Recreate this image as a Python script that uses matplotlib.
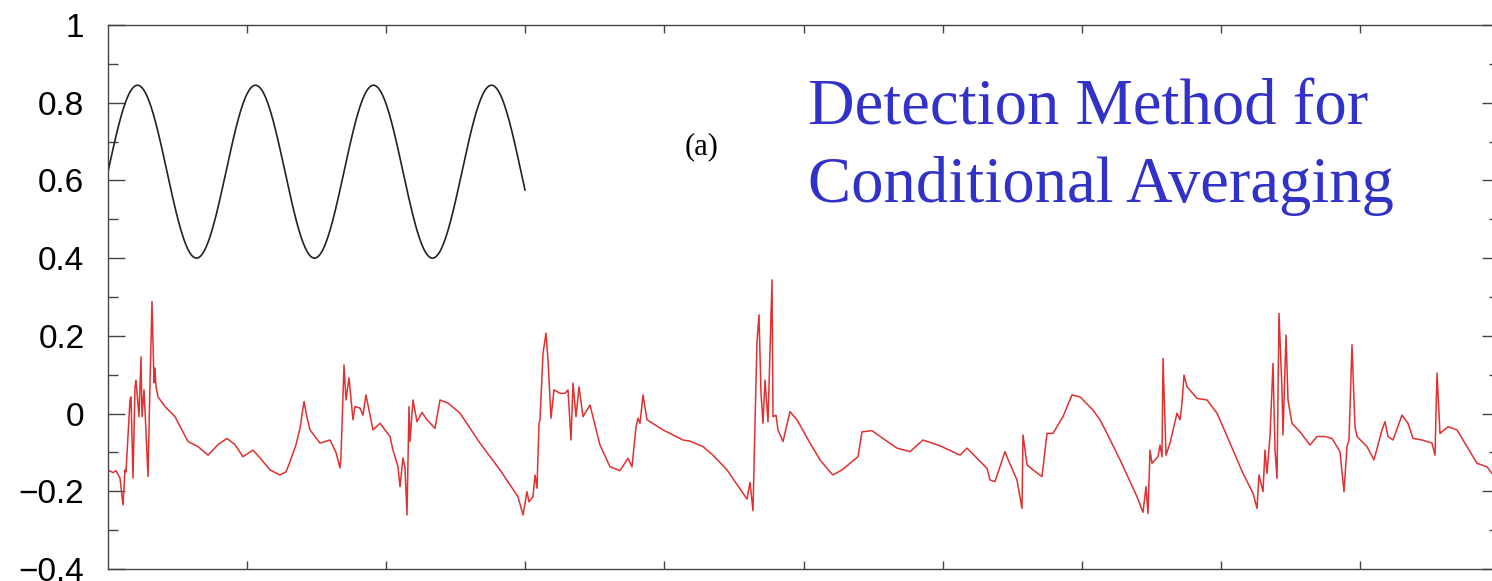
import numpy as np
import matplotlib
matplotlib.use("Agg")
import matplotlib.pyplot as plt
from matplotlib.ticker import MultipleLocator

# fluctuating signal (time in arbitrary sample units, amplitude)
signal_t = [
    0, 5, 8, 12, 15, 17, 18, 22, 23, 25, 27, 28, 31, 33, 34, 36, 37, 40, 42, 44,
    46, 47, 48, 50, 57, 67, 80, 90, 100, 110, 119, 127, 135, 145, 154, 162, 172, 178, 182, 188,
    192, 196, 199, 202, 212, 222, 228, 232, 233, 236, 238, 241, 245, 247, 252, 255, 258, 265, 272, 282,
    285, 290, 292, 295, 297, 299, 301, 302, 305, 309, 314, 319, 327, 332, 340, 352, 372, 392, 410, 415,
    419, 421, 425, 427, 429, 431, 432, 435, 438, 440, 443, 446, 452, 457, 460, 463, 465, 468, 471, 475,
    482, 492, 502, 512, 520, 524, 528, 530, 532, 535, 539, 555, 575, 582, 595, 605, 619, 639, 642, 645, 647,
    649, 651, 653, 655, 657, 660, 664, 665, 668, 670, 675, 682, 689, 702, 712, 722, 725, 734, 750, 754,
    764, 775, 789, 802, 815, 832, 852, 859, 869, 879, 882, 887, 897, 900, 909, 914, 915, 919, 925, 934,
    939, 945, 955, 964, 972, 985, 992, 999, 1012, 1029, 1035, 1038, 1040, 1042, 1044, 1047, 1050, 1052, 1054, 1055, 1058,
    1062, 1069, 1072, 1074, 1076, 1079, 1089, 1099, 1109, 1122, 1135, 1145, 1149, 1151, 1155, 1157, 1159, 1162, 1165, 1167,
    1169, 1171, 1174, 1175, 1178, 1180, 1184, 1192, 1202, 1209, 1217, 1224, 1232, 1236, 1239, 1241, 1244, 1247, 1249, 1259,
    1266, 1274, 1277, 1280, 1285, 1294, 1300, 1305, 1314, 1324, 1327, 1329, 1332, 1340, 1349, 1359, 1369, 1379, 1384,
]
signal_v = [
    -0.145, -0.152, -0.147, -0.166, -0.235, -0.145, -0.150, 0.035, 0.043, -0.166, 0.069, 0.086, -0.008, 0.146, -0.008, 0.061, 0.009, -0.162, 0.079, 0.288,
    0.079, 0.117, 0.069, 0.043, 0.018, -0.008, -0.072, -0.085, -0.107, -0.080, -0.064, -0.080, -0.111, -0.094, -0.120, -0.145, -0.158, -0.150, -0.124, -0.080,
    -0.038, 0.031, -0.010, -0.042, -0.076, -0.068, -0.100, -0.140, -0.110, 0.125, 0.035, 0.092, -0.016, 0.018, 0.014, -0.004, 0.048, -0.042, -0.025, -0.059,
    -0.094, -0.137, -0.188, -0.114, -0.140, -0.261, 0.018, -0.072, 0.035, -0.021, 0.003, -0.016, -0.038, 0.035, 0.027, 0.001, -0.076, -0.145, -0.214, -0.261,
    -0.201, -0.227, -0.214, -0.158, -0.192, -0.025, -0.016, 0.155, 0.207, 0.138, -0.012, 0.061, 0.052, 0.052, 0.061, -0.068, 0.078, -0.008, 0.069, -0.008,
    0.022, -0.081, -0.137, -0.147, -0.115, -0.137, -0.034, -0.012, -0.025, 0.048, -0.016, -0.042, -0.068, -0.071, -0.085, -0.107, -0.145, -0.220, -0.177, -0.250, -0.025,
    0.185, 0.254, 0.052, -0.025, 0.086, -0.021, 0.344, -0.008, -0.004, -0.042, -0.072, 0.005, -0.016, -0.076, -0.119, -0.150, -0.158, -0.145, -0.111, -0.047,
    -0.044, -0.064, -0.089, -0.098, -0.068, -0.083, -0.107, -0.089, -0.115, -0.141, -0.171, -0.175, -0.098, -0.118, -0.171, -0.244, -0.055, -0.132, -0.145, -0.162,
    -0.051, -0.051, -0.008, 0.048, 0.043, 0.009, -0.016, -0.051, -0.119, -0.214, -0.254, -0.188, -0.257, -0.094, -0.128, -0.119, -0.111, -0.081, -0.111, 0.142, -0.107,
    -0.076, 0.001, -0.016, 0.027, 0.099, 0.069, 0.039, 0.035, 0.001, -0.076, -0.154, -0.205, -0.244, -0.158, -0.201, -0.094, -0.154, -0.059, 0.129, -0.094,
    -0.167, 0.258, 0.061, -0.055, 0.202, 0.035, -0.025, -0.047, -0.081, -0.059, -0.059, -0.064, -0.098, -0.201, -0.085, -0.068, 0.177, -0.034, -0.059, -0.085,
    -0.119, -0.042, -0.021, -0.059, -0.068, -0.004, -0.025, -0.064, -0.068, -0.076, -0.107, 0.104, -0.051, -0.034, -0.042, -0.085, -0.128, -0.137, -0.154,
]

# reference sinusoid
sine_mean = 0.6225
sine_amp = 0.2225
sine_period = 118.0
sine_end = 417.0

yticks = [-0.4, -0.2, 0, 0.2, 0.4, 0.6, 0.8, 1]
ytick_labels = ["\u22120.4", "\u22120.2", "0", "0.2", "0.4", "0.6", "0.8", "1"]
xticks = [139.1 * k for k in range(1, 10)]

fig = plt.figure(figsize=(14.92, 5.81), dpi=100)
ax = fig.add_axes([108 / 1492, 12 / 581, 1391 / 1492, 544 / 581])

t_sine = np.linspace(0, sine_end, 600)
ax.plot(t_sine, sine_mean + sine_amp * np.sin(2 * np.pi * t_sine / sine_period),
        color="#222222", lw=1.2)
ax.plot(signal_t, signal_v, color="#e03030", lw=1.1)

ax.set_xlim(0, 1391)
ax.set_ylim(-0.4, 1.0)
ax.set_xticks(xticks)
ax.set_xticklabels([])
ax.set_yticks(yticks)
ax.set_yticklabels(ytick_labels, fontfamily="Liberation Sans", fontsize=24)
ax.yaxis.set_minor_locator(MultipleLocator(0.1))

ax.tick_params(axis="both", which="both", direction="in", top=True, right=True,
               color="#444444", width=1)
ax.tick_params(axis="y", which="major", length=12, pad=17)
ax.tick_params(axis="y", which="minor", length=7)
ax.tick_params(axis="x", which="major", length=6)
for s in ax.spines.values():
    s.set_color("#444444")
    s.set_linewidth(1)

ax.text(702 / 1492, 1 - 147 / 581, "(a)", transform=fig.transFigure,
        fontfamily="Liberation Serif", fontsize=22, ha="center", va="center")
fig.text(808 / 1492, 1 - 125 / 581, "Detection Method for",
         fontfamily="Liberation Serif", fontsize=46.5, color="#3232c8", va="baseline")
fig.text(808 / 1492, 1 - 202 / 581, "Conditional Averaging",
         fontfamily="Liberation Serif", fontsize=46.5, color="#3232c8", va="baseline")

fig.savefig("out.png", dpi=100)
